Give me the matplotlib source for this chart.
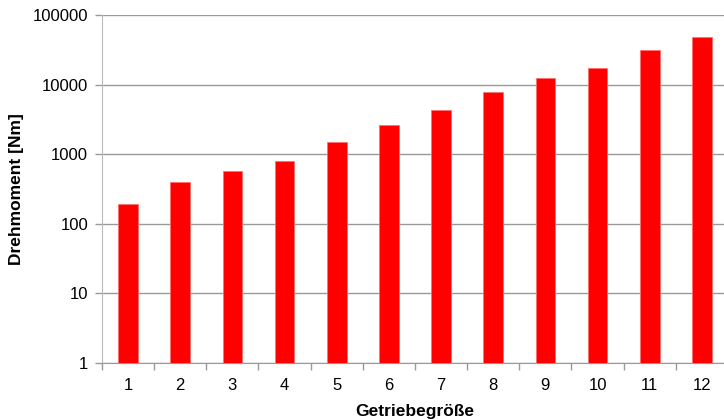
import numpy as np
import matplotlib
matplotlib.use("Agg")
import matplotlib.pyplot as plt
from matplotlib.ticker import FixedLocator, NullLocator, FixedFormatter

plt.rcParams["font.family"] = ["Liberation Sans", "DejaVu Sans"]

# ── data ─────────────────────────────────────────────
sizes  = ["1", "2", "3", "4", "5", "6", "7", "8", "9", "10", "11", "12"]
torque = [195, 400, 580, 800, 1500, 2650, 4250, 7800, 12500, 17200, 31000, 48000]
y_ticks = [1, 10, 100, 1000, 10000, 100000]

fig = plt.figure(figsize=(7.24, 4.19), dpi=100)
ax = fig.add_axes([102 / 724, 56 / 419, 626 / 724, 348 / 419])

x = np.arange(len(sizes))
ax.bar(x, torque, width=0.38, bottom=0, color="#ff0000",
       edgecolor="#ff7070", linewidth=0.6, zorder=3)

ax.set_yscale("log")
ax.set_ylim(1, 100000)
ax.set_xlim(-0.5, len(sizes) - 0.5)

ax.yaxis.set_major_locator(FixedLocator(y_ticks))
ax.yaxis.set_major_formatter(FixedFormatter([str(v) for v in y_ticks]))
ax.yaxis.set_minor_locator(NullLocator())
ax.grid(axis="y", color="#999999", linewidth=1.0, zorder=0)

# category ticks: marks on boundaries, labels at centers
ax.set_xticks(np.arange(len(sizes) + 1) - 0.5)
ax.set_xticklabels([])
ax.set_xticks(x, minor=True)
ax.set_xticklabels(sizes, minor=True)
ax.tick_params(axis="x", which="major", length=5, color="#999999", width=1)
ax.tick_params(axis="x", which="minor", length=0, pad=11, labelsize=12)
ax.tick_params(axis="y", length=5, color="#999999", width=1, labelsize=12, pad=5)

for s in ["top", "right"]:
    ax.spines[s].set_visible(False)
ax.spines["left"].set_color("#bbbbbb")
ax.spines["bottom"].set_color("#999999")

ax.set_ylabel("Drehmoment [Nm]", fontsize=12.5, fontweight="bold", labelpad=6)
ax.set_xlabel("Getriebegröße", fontsize=12.5, fontweight="bold", labelpad=8)

fig.savefig("out.png", dpi=100)
